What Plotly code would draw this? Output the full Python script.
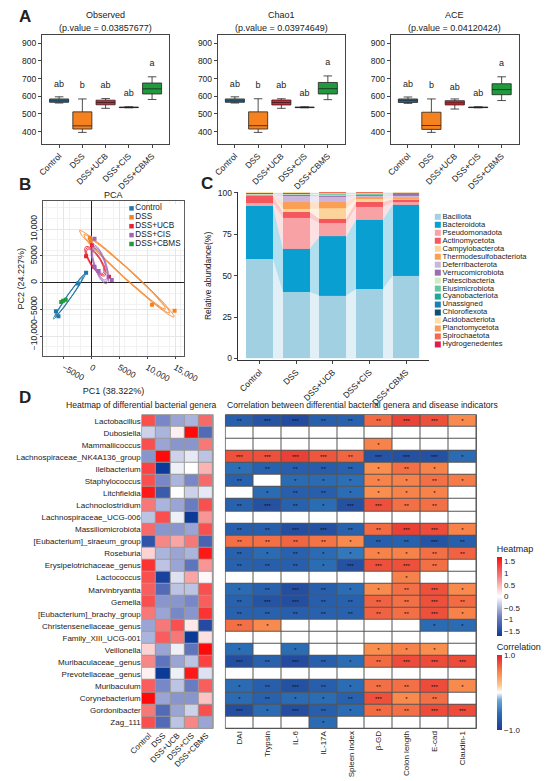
import numpy as np
import plotly.graph_objects as go

FONT = "Liberation Sans, Arial, sans-serif"
W, H = 550, 781

groups = ["Control", "DSS", "DSS+UCB", "DSS+CIS", "DSS+CBMS"]
group_colors = ["#1f78a8", "#f5821f", "#e8202f", "#a066b5", "#1f9a3c"]
letters = ["ab", "b", "ab", "ab", "a"]

# --- A: alpha diversity, box stats
metric_names = ["Observed", "Chao1", "ACE"]
metric_p = ["0.03857677", "0.03974649", "0.04120424"]

obs_lo = [562, 396, 532, 535, 582]
obs_q1 = [566, 415, 552, 536, 613]
obs_med = [574, 433, 565, 537, 642]
obs_q3 = [585, 512, 578, 539, 675]
obs_hi = [597, 585, 587, 541, 710]
obs_let = [666, 659, 659, 617, 782]

chao_lo = [562, 396, 532, 535, 581]
chao_q1 = [566, 415, 551, 536, 613]
chao_med = [574, 434, 565, 537, 643]
chao_q3 = [585, 512, 579, 539, 678]
chao_hi = [597, 586, 586, 541, 715]
chao_let = [666, 659, 660, 613, 790]

ace_lo = [560, 396, 528, 535, 576]
ace_q1 = [565, 413, 551, 536, 609]
ace_med = [575, 435, 563, 537, 638]
ace_q3 = [585, 510, 575, 539, 671]
ace_hi = [596, 585, 585, 541, 710]
ace_let = [664, 657, 651, 613, 783]

# --- B: PCA scores
ctrl_pc1 = [-950, -2400, -6350, -5900]
ctrl_pc2 = [1850, -150, -5350, -6300]
dss_pc1 = [-280, -100, 10850, 14900]
dss_pc2 = [8400, 7700, -4150, -5250]
ucb_pc1 = [-950, 3150, 500, 100]
ucb_pc2 = [4950, 1100, 3000, 7000]
cis_pc1 = [560, 3650, 560, 1300]
cis_pc2 = [8200, 500, 2900, 2200]
cbms_pc1 = [-5400, -5050, -4600]
cbms_pc2 = [-3600, -3400, -3200]

# --- C: phylum relative abundance (%)
phyla = ["Bacillota", "Bacteroidota", "Pseudomonadota", "Actinomycetota",
         "Campylobacterota", "Thermodesulfobacteriota", "Deferribacterota",
         "Verrucomicrobiota", "Patescibacteria", "Elusimicrobiota",
         "Cyanobacteriota", "Unassigned", "Chloroflexota", "Acidobacteriota",
         "Planctomycetota", "Spirochaetota", "Hydrogenedentes"]
phyla_colors = ["#a3d0e4", "#0a9fd1", "#f9a3a6", "#f5585f", "#fdd39a", "#fba053",
                "#cdb4db", "#9a6fb0", "#cdebc5", "#67c6a5", "#1ca999", "#1f7fb0",
                "#0c4f78", "#fde1a8", "#fc9c5c", "#f46a50", "#e31c4f"]
control_ab = [60.0, 32.1, 1.8, 4.3, 0.2, 0.3, 0.2, 0.2, 0.2, 0.3, 0.2, 0.1, 0.05, 0.05, 0, 0, 0]
dss_ab = [40.1, 26.1, 18.8, 3.5, 1.7, 4.2, 3.8, 0.8, 0.3, 0.3, 0.2, 0.1, 0.05, 0.05, 0, 0, 0]
ucb_ab = [38.0, 35.7, 8.0, 2.7, 6.2, 3.8, 3.4, 0.8, 0.4, 0.4, 0.3, 0.1, 0.05, 0.05, 0.05, 0.05, 0]
cis_ab = [41.9, 41.9, 7.8, 2.9, 1.8, 1.2, 0.8, 0.4, 0.3, 0.4, 0.3, 0.1, 0.05, 0.05, 0.05, 0.05, 0]
cbms_ab = [50.0, 42.9, 1.5, 1.8, 0.4, 0.5, 1.4, 0.8, 0.2, 0.3, 0.2, 0.1, 0.05, 0.05, 0, 0, 0]

# --- D: genera heatmap (row z-scores) and correlations
genera = ["Lactobacillus", "Dubosiella", "Mammaliicoccus", "Lachnospiraceae_NK4A136_group",
          "Ileibacterium", "Staphylococcus", "Litchfieldia", "Lachnoclostridium",
          "Lachnospiraceae_UCG-006", "Massiliomicrobiota", "[Eubacterium]_siraeum_group",
          "Roseburia", "Erysipelotrichaceae_genus", "Lactococcus", "Marvinbryantia", "Gemella",
          "[Eubacterium]_brachy_group", "Christensenellaceae_genus", "Family_XIII_UCG-001",
          "Veillonella", "Muribaculaceae_genus", "Prevotellaceae_genus", "Muribaculum",
          "Corynebacterium", "Gordonibacter", "Zag_111"]
genus_z = [
    [1.2, -0.8, -0.6, -0.5, 1.0],
    [-0.3, -0.5, 0.1, 1.8, -1.1],
    [1.2, -0.6, -0.7, -0.7, 0.9],
    [-0.7, 1.7, -0.3, -0.15, -0.4],
    [1.3, -1.7, -0.1, 0.0, 0.5],
    [1.2, -0.8, -0.5, -0.8, 1.0],
    [1.6, -1.3, 0.0, -0.3, -0.15],
    [0.9, -0.5, -0.6, -0.9, 1.2],
    [-0.4, 1.2, -0.1, -1.7, 0.7],
    [1.0, -0.7, -0.7, -0.6, 1.2],
    [-1.4, 0.8, 0.6, 0.9, -1.2],
    [0.3, -0.5, -0.6, -0.5, 1.6],
    [1.4, -0.4, -0.6, -1.0, 0.7],
    [1.2, -1.6, -0.2, 0.6, 0.05],
    [1.1, -1.1, -0.4, -0.4, 1.2],
    [1.2, -0.7, -0.7, -0.8, 1.1],
    [0.9, -0.6, -0.8, -0.7, 1.4],
    [-0.6, 0.9, 1.2, 0.15, -1.5],
    [-0.5, 1.1, 0.9, -1.7, 0.2],
    [0.3, -0.6, -0.1, -1.0, 1.7],
    [0.8, -1.0, -0.6, -0.4, 1.3],
    [0.1, -1.7, -0.1, 1.6, -0.2],
    [1.1, -0.8, -0.4, -0.9, 1.1],
    [1.7, -0.6, -0.7, -0.7, 0.4],
    [0.9, -1.1, -0.6, -0.3, 1.2],
    [1.2, -1.1, -0.4, 0.8, -0.6],
]
indicators = ["DAI", "Trypsin", "IL-6", "IL-17A", "Spleen index", "β-GD",
              "Colon length", "E-cad", "Claudin-1"]
corr_r = [
    [-0.68, -0.78, -0.85, -0.68, -0.66, 0.66, 0.84, 0.78, 0.52],
    [0, 0, 0, 0, 0, 0, 0, 0, 0],
    [0, 0, 0, 0, 0, 0.55, 0, 0, 0],
    [0.78, 0.78, 0.85, 0.75, 0.68, -0.78, -0.8, -0.8, -0.58],
    [-0.55, -0.66, -0.68, -0.7, -0.66, 0.5, 0.64, 0.55, 0],
    [-0.66, 0, -0.58, -0.58, -0.55, 0.55, 0.56, 0.64, 0.58],
    [0, -0.58, -0.68, -0.68, -0.56, 0.5, 0.55, 0.55, 0],
    [-0.66, -0.8, -0.66, -0.56, -0.8, 0.78, 0.64, 0.64, 0],
    [0, 0, 0, 0, 0, 0, 0, 0, 0],
    [-0.68, -0.68, -0.82, -0.8, -0.66, 0.66, 0.85, 0.8, 0.55],
    [0.64, 0.64, 0.68, 0.62, 0.52, -0.68, -0.66, -0.78, -0.68],
    [-0.66, -0.58, -0.66, -0.58, -0.5, 0.55, 0.55, 0.64, 0.7],
    [-0.66, -0.68, -0.68, -0.56, -0.8, 0.78, 0.78, 0.64, 0],
    [0, 0, 0, 0, 0, 0, 0.56, 0, 0],
    [-0.58, -0.66, -0.82, -0.68, -0.56, 0.52, 0.64, 0.78, 0.52],
    [-0.66, -0.78, -0.82, -0.68, -0.66, 0.7, 0.64, 0.78, 0.66],
    [-0.66, -0.66, -0.68, -0.66, -0.66, 0.7, 0.64, 0.78, 0.55],
    [0.64, 0.52, 0, 0, 0, 0, 0, -0.58, -0.58],
    [0, 0, 0, 0, 0, 0, 0, 0, 0],
    [-0.56, 0, -0.56, 0, 0, 0.5, 0.55, 0.5, 0],
    [-0.82, -0.66, -0.85, -0.68, -0.56, 0.66, 0.8, 0.8, 0.8],
    [0, 0, 0, 0, 0, 0, 0, 0, 0],
    [-0.58, -0.68, -0.8, -0.68, -0.56, 0.64, 0.64, 0.8, 0.52],
    [-0.58, -0.66, -0.58, -0.56, -0.66, 0.78, 0.52, 0.64, 0],
    [-0.82, -0.58, -0.82, -0.68, -0.56, 0.66, 0.64, 0.8, 0.8],
    [0, 0, 0, -0.58, 0, 0, 0, 0, 0],
]
corr_stars = [
    ["**", "***", "***", "**", "**", "**", "***", "***", "*"],
    ["", "", "", "", "", "", "", "", ""],
    ["", "", "", "", "", "*", "", "", ""],
    ["***", "***", "***", "***", "**", "***", "***", "***", "*"],
    ["*", "**", "**", "**", "**", "*", "**", "*", ""],
    ["**", "", "*", "*", "*", "*", "*", "**", "*"],
    ["", "*", "**", "**", "*", "*", "*", "*", ""],
    ["**", "***", "**", "*", "***", "***", "**", "**", ""],
    ["", "", "", "", "", "", "", "", ""],
    ["**", "**", "***", "***", "**", "**", "***", "***", "*"],
    ["**", "**", "**", "**", "*", "**", "**", "***", "**"],
    ["**", "*", "**", "*", "*", "*", "*", "**", "**"],
    ["**", "**", "**", "*", "***", "***", "***", "**", ""],
    ["", "", "", "", "", "", "*", "", ""],
    ["*", "**", "***", "**", "*", "*", "**", "***", "*"],
    ["**", "***", "***", "**", "**", "**", "**", "***", "**"],
    ["**", "**", "**", "**", "**", "**", "**", "***", "*"],
    ["**", "*", "", "", "", "", "", "*", "*"],
    ["", "", "", "", "", "", "", "", ""],
    ["*", "", "*", "", "", "*", "*", "*", ""],
    ["***", "**", "***", "**", "*", "**", "***", "***", "***"],
    ["", "", "", "", "", "", "", "", ""],
    ["*", "**", "***", "**", "*", "**", "**", "***", "*"],
    ["*", "**", "*", "*", "**", "***", "*", "**", ""],
    ["***", "*", "***", "**", "*", "**", "**", "***", "***"],
    ["", "", "", "*", "", "", "", "", ""],
]


def xd(a, b):
    return [a / W, b / W]


def yd(top, bottom):
    return [1 - bottom / H, 1 - top / H]


def note(text, px, py, size=9, xanchor="center", bold=False):
    fig.add_annotation(x=px / W, y=1 - py / H, xref="paper", yref="paper",
                       xanchor=xanchor, yanchor="middle", showarrow=False,
                       text="<b>%s</b>" % text if bold else text,
                       font=dict(family=FONT, size=size, color="#222"))


def ellipse(xs, ys, scale, n=80):
    pts = np.column_stack([xs, ys]).astype(float)
    mu = pts.mean(axis=0)
    vals, vecs = np.linalg.eigh(np.cov(pts.T))
    t = np.linspace(0, 2 * np.pi, n)
    circ = np.vstack([np.cos(t), np.sin(t)]) * np.sqrt(np.clip(vals, 0, None))[:, None]
    e = vecs @ circ * scale
    return mu[0] + e[0], mu[1] + e[1]


fig = go.Figure()
axis_font = dict(family=FONT, size=8.5, color="#222")

# ---------------- A ----------------
box_stats = [
    (obs_lo, obs_q1, obs_med, obs_q3, obs_hi, obs_let),
    (chao_lo, chao_q1, chao_med, chao_q3, chao_hi, chao_let),
    (ace_lo, ace_q1, ace_med, ace_q3, ace_hi, ace_let),
]
a_x = [(31, 166), (218, 353), (402, 538)]
for k, (lo, q1, med, q3, hi, lety) in enumerate(box_stats):
    ax = "" if k == 0 else str(k + 1)
    for i, g in enumerate(groups):
        fig.add_trace(go.Box(
            x=[g], q1=[q1[i]], median=[med[i]], q3=[q3[i]],
            lowerfence=[lo[i]], upperfence=[hi[i]],
            fillcolor=group_colors[i], line=dict(color="#222", width=0.8),
            width=0.82, whiskerwidth=0.45, boxpoints=False,
            xaxis="x" + ax, yaxis="y" + ax, showlegend=False, hoverinfo="skip"))
    fig.add_trace(go.Scatter(x=groups, y=lety, mode="text", text=letters,
                             textfont=dict(family=FONT, size=9, color="#222"),
                             xaxis="x" + ax, yaxis="y" + ax, showlegend=False))
    fig.layout["xaxis" + ax] = dict(
        domain=xd(*a_x[k]), anchor="y" + ax, range=[-0.73, 4.73],
        tickangle=-45, tickfont=axis_font, showline=True, mirror=True,
        linecolor="#444", linewidth=1.3, ticks="outside", ticklen=3, showgrid=False)
    fig.layout["yaxis" + ax] = dict(
        domain=yd(31, 141), anchor="x" + ax, range=[333, 948],
        tickvals=[400, 500, 600, 700, 800, 900], tickfont=axis_font,
        showline=True, mirror=True, linecolor="#444", linewidth=1.3,
        ticks="outside", ticklen=3, showgrid=False, zeroline=False)
    cx = (a_x[k][0] + a_x[k][1]) / 2
    note(metric_names[k], cx, 11)
    note("(p.value = %s)" % metric_p[k], cx, 24)

# ---------------- B ----------------
pca_sets = [(ctrl_pc1, ctrl_pc2), (dss_pc1, dss_pc2), (ucb_pc1, ucb_pc2),
            (cis_pc1, cis_pc2), (cbms_pc1, cbms_pc2)]
for i, (px_, py_) in enumerate(pca_sets):
    for s in (0.9, 1.0, 1.1):
        ex, ey = ellipse(px_, py_, s)
        fig.add_trace(go.Scatter(x=ex, y=ey, mode="lines",
                                 line=dict(color=group_colors[i], width=0.8),
                                 xaxis="x4", yaxis="y4", showlegend=False, hoverinfo="skip"))
    fig.add_trace(go.Scatter(x=px_, y=py_, mode="markers",
                             marker=dict(symbol="square", size=4, color=group_colors[i]),
                             xaxis="x4", yaxis="y4", showlegend=False))

fig.layout.xaxis4 = dict(
    domain=xd(32, 182), anchor="y4", range=[-8650, 16600],
    tickvals=[-5000, 0, 5000, 10000, 15000],
    ticktext=["\u22125000", "0", "5000", "10,000", "15,000"],
    tickfont=axis_font, showgrid=True, gridcolor="#e6e6e6", gridwidth=0.6,
    minor=dict(showgrid=True, gridcolor="#f2f2f2", gridwidth=0.5),
    zeroline=True, zerolinecolor="#222", zerolinewidth=1,
    showline=True, mirror=True, linecolor="#555", linewidth=1,
    ticks="outside", ticklen=2,
    title=dict(text="PC1 (38.322%)", font=dict(family=FONT, size=9), standoff=4))
fig.layout.yaxis4 = dict(
    domain=yd(199, 356), anchor="x4", range=[-13800, 15300],
    tickvals=[-10000, -5000, 0, 5000, 10000],
    ticktext=["\u221210,000", "\u22125000", "0", "5000", "10,000"],
    tickangle=-90, tickfont=axis_font, showgrid=True, gridcolor="#e6e6e6", gridwidth=0.6,
    minor=dict(showgrid=True, gridcolor="#f2f2f2", gridwidth=0.5),
    zeroline=True, zerolinecolor="#222", zerolinewidth=1,
    showline=True, mirror=True, linecolor="#555", linewidth=1,
    ticks="outside", ticklen=2,
    title=dict(text="PC2 (24.227%)", font=dict(family=FONT, size=9), standoff=2))
note("PCA", 107, 193)

# PCA legend
fig.add_trace(go.Scatter(x=[0] * len(groups), y=list(range(len(groups))),
                         mode="markers+text", text=groups, textposition="middle right",
                         marker=dict(symbol="square", size=4.5, color=group_colors),
                         textfont=dict(family=FONT, size=8.2, color="#222"),
                         xaxis="x5", yaxis="y5", showlegend=False, cliponaxis=False))
fig.layout.xaxis5 = dict(domain=xd(124, 182), anchor="y5", range=[-0.3, 8], visible=False)
fig.layout.yaxis5 = dict(domain=yd(202, 247), anchor="x5", range=[4.5, -0.5], visible=False)

# ---------------- C ----------------
ab_by_group = [control_ab, dss_ab, ucb_ab, cis_ab, cbms_ab]
pos = list(range(len(groups)))
half = 0.365
band_x = [c + d for c in pos for d in (-half, half)]
for j, name in enumerate(phyla):
    vals = [ab[j] for ab in ab_by_group]
    col = phyla_colors[j]
    r, g, b = int(col[1:3], 16), int(col[3:5], 16), int(col[5:7], 16)
    fig.add_trace(go.Scatter(x=band_x, y=[v for v in vals for _ in (0, 1)],
                             stackgroup="bands", mode="lines", line=dict(width=0),
                             fillcolor="rgba(%d,%d,%d,0.32)" % (r, g, b),
                             xaxis="x6", yaxis="y6", showlegend=False, hoverinfo="skip"))
for j, name in enumerate(phyla):
    vals = [ab[j] for ab in ab_by_group]
    fig.add_trace(go.Bar(x=pos, y=vals, width=2 * half, name=name,
                         marker=dict(color=phyla_colors[j], line=dict(width=0)),
                         xaxis="x6", yaxis="y6", showlegend=False))

fig.layout.xaxis6 = dict(domain=xd(239, 443), anchor="y6", range=[-0.6, 4.64],
                         tickvals=pos, ticktext=groups, tickangle=-45, tickfont=axis_font,
                         showline=True, linecolor="#333", linewidth=1.2,
                         ticks="outside", ticklen=3, showgrid=False, zeroline=False)
fig.layout.yaxis6 = dict(domain=yd(190, 359.5), anchor="x6", range=[-0.8, 100.5],
                         tickvals=[0, 25, 50, 75, 100], tickfont=axis_font,
                         showline=True, linecolor="#333", linewidth=1.2,
                         ticks="outside", ticklen=3, showgrid=False, zeroline=False,
                         title=dict(text="Relative abundance(%)",
                                    font=dict(family=FONT, size=8.5), standoff=4))

# phylum legend
fig.add_trace(go.Scatter(x=[0] * len(phyla), y=list(range(len(phyla))),
                         mode="markers+text", text=phyla, textposition="middle right",
                         marker=dict(symbol="square", size=6, color=phyla_colors),
                         textfont=dict(family=FONT, size=7.6, color="#222"),
                         xaxis="x7", yaxis="y7", showlegend=False, cliponaxis=False))
fig.layout.xaxis7 = dict(domain=xd(448, 550), anchor="y7", range=[-0.4, 10], visible=False)
fig.layout.yaxis7 = dict(domain=yd(211, 348), anchor="x7",
                         range=[len(phyla) - 0.5, -0.5], visible=False)

# ---------------- D ----------------
heat_scale = [[0, "#0c3a99"], [0.25, "#7080c4"], [0.5, "#ffffff"],
              [0.75, "#f77f7f"], [1, "#ff0a0a"]]
corr_scale = [[0, "#1f3a93"], [0.22, "#2a6db5"], [0.4, "#6aa8d6"], [0.5, "#ffffff"],
              [0.6, "#fdc58c"], [0.75, "#f98e4f"], [1, "#e3202b"]]

fig.add_trace(go.Heatmap(
    z=genus_z, x=groups, y=genera, colorscale=heat_scale, zmin=-1.7, zmax=1.7,
    xgap=1, ygap=1, xaxis="x8", yaxis="y8",
    colorbar=dict(x=503 / W, xanchor="left", y=1 - 591 / H, yanchor="middle",
                  len=94, lenmode="pixels", thickness=5, outlinewidth=0, ypad=0,
                  tickvals=[-1.5, -1, -0.5, 0, 0.5, 1, 1.5], ticks="",
                  tickfont=dict(family=FONT, size=8),
                  title=dict(text="Heatmap", side="top", font=dict(family=FONT, size=9)))))
fig.add_trace(go.Heatmap(
    z=corr_r, x=indicators, y=genera, text=corr_stars, texttemplate="%{text}",
    textfont=dict(family=FONT, size=6, color="#111"),
    colorscale=corr_scale, zmin=-1, zmax=1, xgap=1, ygap=1, xaxis="x9", yaxis="y9",
    colorbar=dict(x=503 / W, xanchor="left", y=1 - 688 / H, yanchor="middle",
                  len=90, lenmode="pixels", thickness=5, outlinewidth=0, ypad=0,
                  tickvals=[-1, 1], ticktext=["\u22121.0", "1.0"], ticks="",
                  tickfont=dict(family=FONT, size=8),
                  title=dict(text="Correlation", side="top", font=dict(family=FONT, size=9)))))

fig.layout.xaxis8 = dict(domain=xd(137, 213), anchor="y8", tickangle=-45,
                         tickfont=dict(family=FONT, size=8, color="#222"),
                         showgrid=False, ticks="")
fig.layout.yaxis8 = dict(domain=yd(415, 732), anchor="x8", autorange="reversed",
                         tickfont=dict(family=FONT, size=8, color="#222"),
                         showgrid=False, ticks="")
fig.layout.xaxis9 = dict(domain=xd(226, 493), anchor="y9", tickangle=-90,
                         tickfont=dict(family=FONT, size=8, color="#222"),
                         showgrid=False, ticks="")
fig.layout.yaxis9 = dict(domain=yd(415, 732), anchor="x9", autorange="reversed",
                         showticklabels=False, showgrid=False, ticks="")

fig.add_shape(type="rect", xref="x8 domain", yref="y8 domain", x0=0, x1=1, y0=0, y1=1,
              fillcolor="#9a9a9a", line=dict(color="#9a9a9a", width=1), layer="below")
fig.add_shape(type="rect", xref="x9 domain", yref="y9 domain", x0=0, x1=1, y0=0, y1=1,
              fillcolor="#555555", line=dict(color="#555555", width=1), layer="below")

note("Heatmap of differential bacterial genera", 137, 405, size=8.6)
note("Correlation between differential bacterial genera and disease indicators",
     226, 405, size=8.6, xanchor="left")

# panel letters
for lab, lx, ly in [("A", 4, 13), ("B", 4, 182), ("C", 198, 181), ("D", 4, 398)]:
    note(lab, lx, ly, size=17, xanchor="left", bold=True)

fig.update_layout(width=W, height=H, margin=dict(l=0, r=0, t=0, b=0),
                  paper_bgcolor="white", plot_bgcolor="white",
                  font=dict(family=FONT, size=9, color="#222"),
                  showlegend=False, barmode="stack", boxmode="overlay")

fig.write_html("out.html", config={"displayModeBar": False},
               post_script="document.body.style.margin='0';")
